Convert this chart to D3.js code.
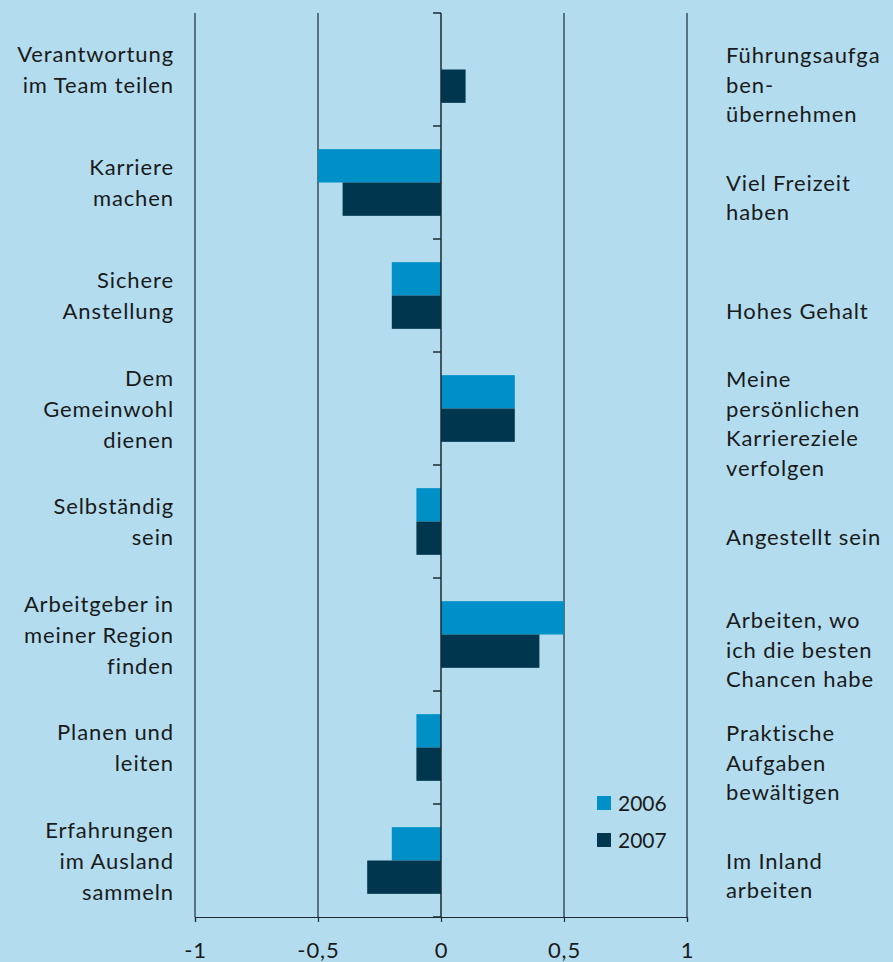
<!DOCTYPE html>
<html>
<head>
<meta charset="utf-8">
<script src="https://cdn.jsdelivr.net/npm/d3@7"></script>
<style>
  html, body { margin: 0; padding: 0; background: #b3ddef; }
  svg { display: block; }
  text { font-family: Lato, "Noto Sans", sans-serif; fill: #1a1a1a; letter-spacing: 0.9px; }
</style>
</head>
<body>
<div id="chart"></div>
<script>
// left / right pole labels of each item (top to bottom)
var leftLabels = [
  ["Verantwortung", "im Team teilen"],
  ["Karriere", "machen"],
  ["Sichere", "Anstellung"],
  ["Dem", "Gemeinwohl", "dienen"],
  ["Selbständig", "sein"],
  ["Arbeitgeber in", "meiner Region", "finden"],
  ["Planen und", "leiten"],
  ["Erfahrungen", "im Ausland", "sammeln"]
];
var rightLabels = [
  ["Führungsaufga", "ben-", "übernehmen"],
  ["Viel Freizeit", "haben"],
  ["Hohes Gehalt"],
  ["Meine", "persönlichen", "Karriereziele", "verfolgen"],
  ["Angestellt sein"],
  ["Arbeiten, wo", "ich die besten", "Chancen habe"],
  ["Praktische", "Aufgaben", "bewältigen"],
  ["Im Inland", "arbeiten"]
];
var years = ["2006", "2007"];
var values2006 = [0, -0.5, -0.2, 0.3, -0.1, 0.5, -0.1, -0.2];
var values2007 = [0.1, -0.4, -0.2, 0.3, -0.1, 0.4, -0.1, -0.3];
var xTicks = [-1, -0.5, 0, 0.5, 1];
var colors = ["#0090c8", "#00364e"];

var width = 893, height = 962;
var svg = d3.select("#chart").append("svg").attr("width", width).attr("height", height);

var items = d3.range(leftLabels.length);
var x = d3.scaleLinear().domain([-1, 1]).range([195, 687]);
var y = d3.scaleBand().domain(items).range([13, 917]).paddingInner(0.41).paddingOuter(0.205);
var yFull = d3.scaleBand().domain(items).range([13, 917]);
var ySub = d3.scaleBand().domain(years).range([0, y.bandwidth()]);

// vertical gridlines
svg.append("g").selectAll("line")
  .data(xTicks.filter(function(d) { return d !== 0; }))
  .enter().append("line")
  .attr("x1", function(d) { return x(d); }).attr("x2", function(d) { return x(d); })
  .attr("y1", 13).attr("y2", 917)
  .attr("stroke", "#1c2a33").attr("stroke-width", 1.2);

// bars
var series = [values2006, values2007];
series.forEach(function(vals, si) {
  svg.append("g").selectAll("rect")
    .data(vals)
    .enter().append("rect")
    .attr("x", function(d) { return x(Math.min(0, d)); })
    .attr("width", function(d) { return Math.abs(x(d) - x(0)); })
    .attr("y", function(d, i) { return y(i) + ySub(years[si]); })
    .attr("height", ySub.bandwidth())
    .attr("fill", colors[si]);
});

// center axis with left ticks at band boundaries
var cg = svg.append("g");
cg.append("line")
  .attr("x1", x(0)).attr("x2", x(0)).attr("y1", 13).attr("y2", 917)
  .attr("stroke", "#1c2a33").attr("stroke-width", 1.5);
cg.selectAll("line.tk")
  .data(d3.range(items.length + 1))
  .enter().append("line").attr("class", "tk")
  .attr("x1", x(0) - 8).attr("x2", x(0))
  .attr("y1", function(d) { return 13 + d * yFull.step(); })
  .attr("y2", function(d) { return 13 + d * yFull.step(); })
  .attr("stroke", "#1c2a33").attr("stroke-width", 1.5);

// bottom axis
var xAxis = d3.axisBottom(x).tickValues(xTicks).tickSize(5).tickPadding(20)
  .tickFormat(function(d) { return String(d).replace(".", ","); });
var ax = svg.append("g").attr("transform", "translate(0,917)").call(xAxis);
ax.select(".domain").attr("stroke", "#1c2a33").attr("stroke-width", 1.2);
ax.selectAll(".tick line").attr("stroke", "#1c2a33").attr("stroke-width", 1.2);
ax.selectAll(".tick text").style("font-size", "22px").attr("fill", "#1a1a1a")
  .style("font-family", "Lato, 'Noto Sans', sans-serif");

// side labels
function drawLabels(labels, xPos, anchor, lh, offset) {
  labels.forEach(function(lines, i) {
    var cy = yFull(i) + yFull.bandwidth() / 2 + offset;
    var t = svg.append("text").attr("text-anchor", anchor).style("font-size", "22px");
    lines.forEach(function(s, k) {
      t.append("tspan").attr("x", xPos)
        .attr("y", cy + (k - (lines.length - 1) / 2) * lh + 8)
        .text(s);
    });
  });
}
drawLabels(leftLabels, 174, "end", 31, 0);
drawLabels(rightLabels, 726, "start", 29.5, 15);

// legend
var lg = svg.append("g").attr("transform", "translate(597,796)");
years.forEach(function(yr, i) {
  lg.append("rect").attr("x", 0).attr("y", i * 37).attr("width", 14).attr("height", 14).attr("fill", colors[i]);
  lg.append("text").attr("x", 21).attr("y", i * 37 + 15).style("font-size", "21px")
    .style("letter-spacing", "0px").text(yr);
});
</script>
</body>
</html>
